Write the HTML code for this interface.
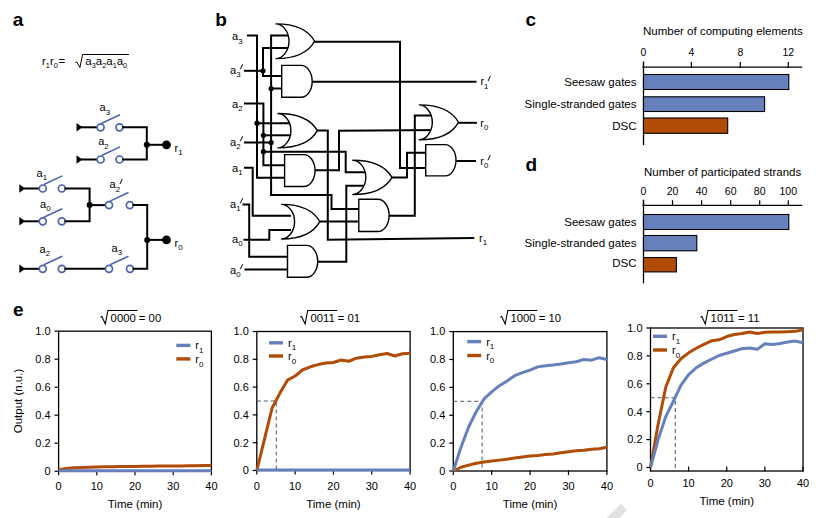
<!DOCTYPE html>
<html><head><meta charset="utf-8"><style>
html,body{margin:0;padding:0;background:#fff;width:826px;height:518px;overflow:hidden}
svg{display:block;font-family:"Liberation Sans", sans-serif}
</style></head><body>
<svg width="826" height="518" viewBox="0 0 826 518">
<text x="12.8" y="26" font-size="19" text-anchor="start" font-weight="bold" fill="#000" >a</text>
<text x="42" y="64.5" font-size="11.5" fill="#000">r<tspan font-size="7.3" dy="3.9">1</tspan><tspan dy="-3.9">r</tspan><tspan font-size="7.3" dy="3.9">0</tspan><tspan dy="-3.9" dx="0.8">=</tspan></text>
<path d="M75.4,62.6 L76.8,61.9 L79.9,67.5 L82.6,54.5 H128.9" fill="none" stroke="#000" stroke-width="1"/>
<text x="85.3" y="64.5" font-size="11.5" fill="#000">a<tspan font-size="7.3" dy="3.9">3</tspan><tspan dy="-3.9">a</tspan><tspan font-size="7.3" dy="3.9">2</tspan><tspan dy="-3.9">a</tspan><tspan font-size="7.3" dy="3.9">1</tspan><tspan dy="-3.9">a</tspan><tspan font-size="7.3" dy="3.9">0</tspan></text>
<path d="M76.5,123.0 L82.5,127.3 L76.5,131.6 Z" fill="#000"/>
<polyline points="82,127.3 96.9,127.3" fill="none" stroke="#000" stroke-width="2" stroke-linejoin="miter" stroke-linecap="square" />
<path d="M76.5,155.2 L82.5,159.5 L76.5,163.8 Z" fill="#000"/>
<polyline points="82,159.5 96.9,159.5" fill="none" stroke="#000" stroke-width="2" stroke-linejoin="miter" stroke-linecap="square" />
<circle cx="100.6" cy="127.3" r="3.5" fill="#fff" stroke="#4a64ad" stroke-width="1.7"/>
<circle cx="119.5" cy="127.3" r="3.5" fill="#fff" stroke="#4a64ad" stroke-width="1.7"/>
<line x1="101.6" y1="123.3" x2="120.1" y2="114.7" stroke="#4a64ad" stroke-width="1.5"/>
<text x="99.6" y="111.2" font-size="11" fill="#000">a<tspan font-size="7.8" dy="3.6">3</tspan></text>
<circle cx="100.6" cy="159.5" r="3.5" fill="#fff" stroke="#4a64ad" stroke-width="1.7"/>
<circle cx="119.5" cy="159.5" r="3.5" fill="#fff" stroke="#4a64ad" stroke-width="1.7"/>
<line x1="101.6" y1="155.5" x2="120.1" y2="146.9" stroke="#4a64ad" stroke-width="1.5"/>
<text x="98.2" y="145.3" font-size="11" fill="#000">a<tspan font-size="7.8" dy="3.6">2</tspan></text>
<polyline points="123.2,127.3 146.8,127.3 146.8,159.5 123.2,159.5" fill="none" stroke="#000" stroke-width="2" stroke-linejoin="miter" stroke-linecap="square" />
<polyline points="146.8,144.8 166.5,144.8" fill="none" stroke="#000" stroke-width="2" stroke-linejoin="miter" stroke-linecap="square" />
<circle cx="146.8" cy="144.8" r="3" fill="#000"/>
<circle cx="166.5" cy="144.8" r="4.4" fill="#000"/>
<text x="174.5" y="151.5" font-size="11" fill="#000">r<tspan font-size="8" dy="3.6">1</tspan></text>
<path d="M19.3,184.2 L25.3,188.5 L19.3,192.8 Z" fill="#000"/>
<polyline points="25,188.5 38.8,188.5" fill="none" stroke="#000" stroke-width="2" stroke-linejoin="miter" stroke-linecap="square" />
<path d="M19.3,217.0 L25.3,221.3 L19.3,225.60000000000002 Z" fill="#000"/>
<polyline points="25,221.3 38.8,221.3" fill="none" stroke="#000" stroke-width="2" stroke-linejoin="miter" stroke-linecap="square" />
<path d="M19.3,264.5 L25.3,268.8 L19.3,273.1 Z" fill="#000"/>
<polyline points="25,268.8 38.8,268.8" fill="none" stroke="#000" stroke-width="2" stroke-linejoin="miter" stroke-linecap="square" />
<circle cx="42.8" cy="188.5" r="3.5" fill="#fff" stroke="#4a64ad" stroke-width="1.7"/>
<circle cx="61.8" cy="188.5" r="3.5" fill="#fff" stroke="#4a64ad" stroke-width="1.7"/>
<line x1="43.8" y1="184.5" x2="62.3" y2="175.9" stroke="#4a64ad" stroke-width="1.5"/>
<text x="36.6" y="176.7" font-size="11" fill="#000">a<tspan font-size="7.8" dy="3.6">1</tspan></text>
<circle cx="42.8" cy="221.3" r="3.5" fill="#fff" stroke="#4a64ad" stroke-width="1.7"/>
<circle cx="61.8" cy="221.3" r="3.5" fill="#fff" stroke="#4a64ad" stroke-width="1.7"/>
<line x1="43.8" y1="217.3" x2="62.3" y2="208.70000000000002" stroke="#4a64ad" stroke-width="1.5"/>
<text x="40" y="207.5" font-size="11" fill="#000">a<tspan font-size="7.8" dy="3.6">0</tspan></text>
<circle cx="42.8" cy="268.8" r="3.5" fill="#fff" stroke="#4a64ad" stroke-width="1.7"/>
<circle cx="61.8" cy="268.8" r="3.5" fill="#fff" stroke="#4a64ad" stroke-width="1.7"/>
<line x1="43.8" y1="264.8" x2="62.3" y2="256.2" stroke="#4a64ad" stroke-width="1.5"/>
<text x="39.5" y="252.8" font-size="11" fill="#000">a<tspan font-size="7.8" dy="3.6">2</tspan></text>
<polyline points="65.5,188.5 89.6,188.5 89.6,221.3 65.5,221.3" fill="none" stroke="#000" stroke-width="2" stroke-linejoin="miter" stroke-linecap="square" />
<polyline points="89.6,205.1 105,205.1" fill="none" stroke="#000" stroke-width="2" stroke-linejoin="miter" stroke-linecap="square" />
<circle cx="89.6" cy="205.1" r="3" fill="#000"/>
<circle cx="109" cy="205.1" r="3.5" fill="#fff" stroke="#4a64ad" stroke-width="1.7"/>
<circle cx="129.8" cy="205.1" r="3.5" fill="#fff" stroke="#4a64ad" stroke-width="1.7"/>
<line x1="110" y1="201.1" x2="128.5" y2="192.5" stroke="#4a64ad" stroke-width="1.5"/>
<text x="109.6" y="188.3" font-size="11" fill="#000">a<tspan font-size="7.8" dy="3.6">2</tspan></text>
<line x1="119.89999999999999" y1="184.0" x2="122.3" y2="179.0" stroke="#000" stroke-width="1"/>
<polyline points="65.5,268.8 105,268.8" fill="none" stroke="#000" stroke-width="2" stroke-linejoin="miter" stroke-linecap="square" />
<circle cx="109" cy="268.8" r="3.5" fill="#fff" stroke="#4a64ad" stroke-width="1.7"/>
<circle cx="130" cy="268.8" r="3.5" fill="#fff" stroke="#4a64ad" stroke-width="1.7"/>
<line x1="110" y1="264.8" x2="128.5" y2="256.2" stroke="#4a64ad" stroke-width="1.5"/>
<text x="111.6" y="251.8" font-size="11" fill="#000">a<tspan font-size="7.8" dy="3.6">3</tspan></text>
<polyline points="133.5,205.1 147.2,205.1 147.2,268.8 133.5,268.8" fill="none" stroke="#000" stroke-width="2" stroke-linejoin="miter" stroke-linecap="square" />
<polyline points="147.2,239.9 166.5,239.9" fill="none" stroke="#000" stroke-width="2" stroke-linejoin="miter" stroke-linecap="square" />
<circle cx="147.2" cy="239.9" r="3" fill="#000"/>
<circle cx="166.5" cy="239.9" r="4.4" fill="#000"/>
<text x="174.5" y="246.5" font-size="11" fill="#000">r<tspan font-size="8" dy="3.6">0</tspan></text>
<text x="215.2" y="25.8" font-size="19" text-anchor="start" font-weight="bold" fill="#000" >b</text>
<polyline points="248,35.4 257,35.4 257,177.8 290,177.8" fill="none" stroke="#000" stroke-width="2.0" stroke-linejoin="miter" stroke-linecap="square" />
<polyline points="257,123.2 290,123.2" fill="none" stroke="#000" stroke-width="2.0" stroke-linejoin="miter" stroke-linecap="square" />
<polyline points="300,35.4 271.1,35.4 271.1,195 331.5,195 331.5,208.9 365,208.9" fill="none" stroke="#000" stroke-width="2.0" stroke-linejoin="miter" stroke-linecap="square" />
<polyline points="271.1,88.5 290,88.5" fill="none" stroke="#000" stroke-width="2.0" stroke-linejoin="miter" stroke-linecap="square" />
<polyline points="245,142.5 271.1,142.5" fill="none" stroke="#000" stroke-width="2.0" stroke-linejoin="miter" stroke-linecap="square" />
<polyline points="290,48 263,48 263,76 290,76" fill="none" stroke="#000" stroke-width="2.0" stroke-linejoin="miter" stroke-linecap="square" />
<polyline points="245,70.8 263,70.8" fill="none" stroke="#000" stroke-width="2.0" stroke-linejoin="miter" stroke-linecap="square" />
<polyline points="245,103.6 263.4,103.6 263.4,165.2 290,165.2" fill="none" stroke="#000" stroke-width="2.0" stroke-linejoin="miter" stroke-linecap="square" />
<polyline points="263.4,135.3 290,135.3" fill="none" stroke="#000" stroke-width="2.0" stroke-linejoin="miter" stroke-linecap="square" />
<polyline points="263.4,151.7 345.7,151.7 345.7,172.2 365,172.2" fill="none" stroke="#000" stroke-width="2.0" stroke-linejoin="miter" stroke-linecap="square" />
<polyline points="245,167.8 252.7,167.8 252.7,215.7 290,215.7" fill="none" stroke="#000" stroke-width="2.0" stroke-linejoin="miter" stroke-linecap="square" />
<polyline points="243.5,204.6 249.2,204.6 249.2,256.7 295,256.7" fill="none" stroke="#000" stroke-width="2.0" stroke-linejoin="miter" stroke-linecap="square" />
<polyline points="244.5,239.7 269.3,239.7 269.3,230.1 290,230.1" fill="none" stroke="#000" stroke-width="2.0" stroke-linejoin="miter" stroke-linecap="square" />
<polyline points="245.5,269.4 295,269.4" fill="none" stroke="#000" stroke-width="2.0" stroke-linejoin="miter" stroke-linecap="square" />
<polyline points="310,130.5 327.8,130.5 327.8,239.8 473.3,237.9" fill="none" stroke="#000" stroke-width="2.0" stroke-linejoin="miter" stroke-linecap="square" />
<polyline points="310,170.2 339,170.2 339,130.7 440,130" fill="none" stroke="#000" stroke-width="2.0" stroke-linejoin="miter" stroke-linecap="square" />
<polyline points="310,41.8 400,41.8 400,168.1 435,168.1" fill="none" stroke="#000" stroke-width="2.0" stroke-linejoin="miter" stroke-linecap="square" />
<polyline points="310,81.7 475.5,81.7" fill="none" stroke="#000" stroke-width="2.0" stroke-linejoin="miter" stroke-linecap="square" />
<polyline points="310,221.6 365,221.6" fill="none" stroke="#000" stroke-width="2.0" stroke-linejoin="miter" stroke-linecap="square" />
<polyline points="310,261.8 346.3,261.8 346.3,185.8 365,185.8" fill="none" stroke="#000" stroke-width="2.0" stroke-linejoin="miter" stroke-linecap="square" />
<polyline points="385,177.6 407,177.6 407,152.7 435,152.7" fill="none" stroke="#000" stroke-width="2.0" stroke-linejoin="miter" stroke-linecap="square" />
<polyline points="385,215.7 414.8,215.7 414.8,115.5 440,115.5" fill="none" stroke="#000" stroke-width="2.0" stroke-linejoin="miter" stroke-linecap="square" />
<polyline points="450,122.8 475.9,122.8" fill="none" stroke="#000" stroke-width="2.0" stroke-linejoin="miter" stroke-linecap="square" />
<polyline points="450,161 475,161" fill="none" stroke="#000" stroke-width="2.0" stroke-linejoin="miter" stroke-linecap="square" />
<path d="M276,23.9 C297.23,23.9 308.81,30.84 314.6,41.25 C308.81,51.66 297.23,58.6 276,58.6 C281.85,58.6 289,51.66 289,41.25 C289,30.84 281.85,23.9 276,23.9 Z" fill="#fff" stroke="#000" stroke-width="1.4" stroke-linejoin="round"/>
<path d="M281.7,65.4 H301.07 A11.129999999999995,15.899999999999999 0 0 1 301.07,97.2 H281.7 Z" fill="#fff" stroke="#000" stroke-width="1.4"/>
<path d="M277.9,113.5 C299.625,113.5 311.47499999999997,120.38 317.4,130.7 C311.47499999999997,141.02 299.625,147.9 277.9,147.9 C283.75,147.9 290.9,141.02 290.9,130.7 C290.9,120.38 283.75,113.5 277.9,113.5 Z" fill="#fff" stroke="#000" stroke-width="1.4" stroke-linejoin="round"/>
<path d="M284.6,154.6 H303.835 A11.16500000000002,15.950000000000003 0 0 1 303.835,186.5 H284.6 Z" fill="#fff" stroke="#000" stroke-width="1.4"/>
<path d="M281.6,204.4 C302.61,204.4 314.07,211.32 319.8,221.7 C314.07,232.08 302.61,239 281.6,239 C287.45000000000005,239 294.6,232.08 294.6,221.7 C294.6,211.32 287.45000000000005,204.4 281.6,204.4 Z" fill="#fff" stroke="#000" stroke-width="1.4" stroke-linejoin="round"/>
<path d="M287.5,245.4 H306.53499999999997 A11.16500000000002,15.950000000000003 0 0 1 306.53499999999997,277.3 H287.5 Z" fill="#fff" stroke="#000" stroke-width="1.4"/>
<path d="M352.8,160.2 C374.36,160.2 386.12,167.06 392,177.35 C386.12,187.64 374.36,194.5 352.8,194.5 C358.65000000000003,194.5 365.8,187.64 365.8,177.35 C365.8,167.06 358.65000000000003,160.2 352.8,160.2 Z" fill="#fff" stroke="#000" stroke-width="1.4" stroke-linejoin="round"/>
<path d="M358.8,199.3 H377.83000000000004 A11.269999999999982,16.099999999999994 0 0 1 377.83000000000004,231.5 H358.8 Z" fill="#fff" stroke="#000" stroke-width="1.4"/>
<path d="M419.3,104.9 C440.86,104.9 452.62,111.88000000000001 458.5,122.35000000000001 C452.62,132.82000000000002 440.86,139.8 419.3,139.8 C425.15000000000003,139.8 432.3,132.82000000000002 432.3,122.35000000000001 C432.3,111.88000000000001 425.15000000000003,104.9 419.3,104.9 Z" fill="#fff" stroke="#000" stroke-width="1.4" stroke-linejoin="round"/>
<path d="M425.7,144.6 H445.045 A10.954999999999984,15.650000000000006 0 0 1 445.045,175.9 H425.7 Z" fill="#fff" stroke="#000" stroke-width="1.4"/>
<circle cx="263" cy="70.8" r="2.6" fill="#000"/>
<circle cx="271.1" cy="88.5" r="2.6" fill="#000"/>
<circle cx="257" cy="123.2" r="2.6" fill="#000"/>
<circle cx="263.4" cy="135.3" r="2.6" fill="#000"/>
<circle cx="271.1" cy="142.5" r="2.6" fill="#000"/>
<circle cx="263.4" cy="151.7" r="2.6" fill="#000"/>
<text x="232" y="40.3" font-size="11" fill="#000">a<tspan font-size="7.8" dy="3.6">3</tspan></text>
<text x="230" y="73.5" font-size="11" fill="#000">a<tspan font-size="7.8" dy="3.6">3</tspan></text>
<line x1="240.3" y1="69.2" x2="242.70000000000002" y2="64.2" stroke="#000" stroke-width="1"/>
<text x="232" y="107.5" font-size="11" fill="#000">a<tspan font-size="7.8" dy="3.6">2</tspan></text>
<text x="230" y="145.5" font-size="11" fill="#000">a<tspan font-size="7.8" dy="3.6">2</tspan></text>
<line x1="240.3" y1="141.2" x2="242.70000000000002" y2="136.2" stroke="#000" stroke-width="1"/>
<text x="232" y="171.5" font-size="11" fill="#000">a<tspan font-size="7.8" dy="3.6">1</tspan></text>
<text x="230" y="207.5" font-size="11" fill="#000">a<tspan font-size="7.8" dy="3.6">1</tspan></text>
<line x1="240.3" y1="203.2" x2="242.70000000000002" y2="198.2" stroke="#000" stroke-width="1"/>
<text x="232" y="242.5" font-size="11" fill="#000">a<tspan font-size="7.8" dy="3.6">0</tspan></text>
<text x="230" y="273.5" font-size="11" fill="#000">a<tspan font-size="7.8" dy="3.6">0</tspan></text>
<line x1="240.3" y1="269.2" x2="242.70000000000002" y2="264.2" stroke="#000" stroke-width="1"/>
<text x="480.4" y="85.4" font-size="11" fill="#000">r<tspan font-size="7.8" dy="3.6">1</tspan></text>
<line x1="488.0" y1="81.10000000000001" x2="490.4" y2="76.10000000000001" stroke="#000" stroke-width="1"/>
<text x="480.3" y="126.5" font-size="11" fill="#000">r<tspan font-size="7.8" dy="3.6">0</tspan></text>
<text x="480.3" y="164.5" font-size="11" fill="#000">r<tspan font-size="7.8" dy="3.6">0</tspan></text>
<line x1="487.90000000000003" y1="160.2" x2="490.3" y2="155.2" stroke="#000" stroke-width="1"/>
<text x="479" y="241.5" font-size="11" fill="#000">r<tspan font-size="7.8" dy="3.6">1</tspan></text>
<text x="525.5" y="26" font-size="19" text-anchor="start" font-weight="bold" fill="#000" >c</text>
<text x="643" y="35" font-size="11.5" text-anchor="start" font-weight="normal" fill="#000" >Number of computing elements</text>
<polyline points="643.5,62.2 643.5,144.4" fill="none" stroke="#000" stroke-width="1.3" stroke-linejoin="miter" stroke-linecap="square" />
<polyline points="643,67.2 801.6,67.2" fill="none" stroke="#000" stroke-width="1.3" stroke-linejoin="miter" stroke-linecap="square" />
<polyline points="643.5,62.7 643.5,67.2" fill="none" stroke="#000" stroke-width="1.2" stroke-linejoin="miter" stroke-linecap="square" />
<text x="643.5" y="55.7" font-size="10.5" text-anchor="middle" font-weight="normal" fill="#000" >0</text>
<polyline points="691.4,62.7 691.4,67.2" fill="none" stroke="#000" stroke-width="1.2" stroke-linejoin="miter" stroke-linecap="square" />
<text x="691.4" y="55.7" font-size="10.5" text-anchor="middle" font-weight="normal" fill="#000" >4</text>
<polyline points="740.3,62.7 740.3,67.2" fill="none" stroke="#000" stroke-width="1.2" stroke-linejoin="miter" stroke-linecap="square" />
<text x="740.3" y="55.7" font-size="10.5" text-anchor="middle" font-weight="normal" fill="#000" >8</text>
<polyline points="788.3,62.7 788.3,67.2" fill="none" stroke="#000" stroke-width="1.2" stroke-linejoin="miter" stroke-linecap="square" />
<text x="788.3" y="55.7" font-size="10.5" text-anchor="middle" font-weight="normal" fill="#000" >12</text>
<rect x="643.5" y="74.5" width="145.29999999999995" height="15.0" fill="#6580bb" stroke="#000" stroke-width="1.1"/>
<text x="636.5" y="86" font-size="11.5" text-anchor="end" font-weight="normal" fill="#000" >Seesaw gates</text>
<rect x="643.5" y="96.8" width="121.10000000000002" height="14.700000000000003" fill="#6580bb" stroke="#000" stroke-width="1.1"/>
<text x="636.5" y="107.8" font-size="11.5" text-anchor="end" font-weight="normal" fill="#000" >Single-stranded gates</text>
<rect x="643.5" y="118" width="84.20000000000005" height="15.300000000000011" fill="#b04c06" stroke="#000" stroke-width="1.1"/>
<text x="636.5" y="129.5" font-size="11.5" text-anchor="end" font-weight="normal" fill="#000" >DSC</text>
<text x="525.5" y="171" font-size="19" text-anchor="start" font-weight="bold" fill="#000" >d</text>
<text x="644" y="175.7" font-size="11.5" text-anchor="start" font-weight="normal" fill="#000" >Number of participated strands</text>
<polyline points="643.5,200.3 643.5,282.7" fill="none" stroke="#000" stroke-width="1.3" stroke-linejoin="miter" stroke-linecap="square" />
<polyline points="643,205.3 801.6,205.3" fill="none" stroke="#000" stroke-width="1.3" stroke-linejoin="miter" stroke-linecap="square" />
<polyline points="643.5,200.8 643.5,205.3" fill="none" stroke="#000" stroke-width="1.2" stroke-linejoin="miter" stroke-linecap="square" />
<text x="643.5" y="195.0" font-size="10.5" text-anchor="middle" font-weight="normal" fill="#000" >0</text>
<polyline points="672.5,200.8 672.5,205.3" fill="none" stroke="#000" stroke-width="1.2" stroke-linejoin="miter" stroke-linecap="square" />
<text x="672.5" y="195.0" font-size="10.5" text-anchor="middle" font-weight="normal" fill="#000" >20</text>
<polyline points="701.6,200.8 701.6,205.3" fill="none" stroke="#000" stroke-width="1.2" stroke-linejoin="miter" stroke-linecap="square" />
<text x="701.6" y="195.0" font-size="10.5" text-anchor="middle" font-weight="normal" fill="#000" >40</text>
<polyline points="730.7,200.8 730.7,205.3" fill="none" stroke="#000" stroke-width="1.2" stroke-linejoin="miter" stroke-linecap="square" />
<text x="730.7" y="195.0" font-size="10.5" text-anchor="middle" font-weight="normal" fill="#000" >60</text>
<polyline points="759.7,200.8 759.7,205.3" fill="none" stroke="#000" stroke-width="1.2" stroke-linejoin="miter" stroke-linecap="square" />
<text x="759.7" y="195.0" font-size="10.5" text-anchor="middle" font-weight="normal" fill="#000" >80</text>
<polyline points="788.3,200.8 788.3,205.3" fill="none" stroke="#000" stroke-width="1.2" stroke-linejoin="miter" stroke-linecap="square" />
<text x="788.3" y="195.0" font-size="10.5" text-anchor="middle" font-weight="normal" fill="#000" >100</text>
<rect x="643.5" y="214.5" width="145.29999999999995" height="15.0" fill="#6580bb" stroke="#000" stroke-width="1.1"/>
<text x="636.5" y="225.6" font-size="11.5" text-anchor="end" font-weight="normal" fill="#000" >Seesaw gates</text>
<rect x="643.5" y="235.5" width="53.299999999999955" height="15.300000000000011" fill="#6580bb" stroke="#000" stroke-width="1.1"/>
<text x="636.5" y="246.6" font-size="11.5" text-anchor="end" font-weight="normal" fill="#000" >Single-stranded gates</text>
<rect x="643.5" y="257.6" width="32.89999999999998" height="14.299999999999955" fill="#b04c06" stroke="#000" stroke-width="1.1"/>
<text x="636.5" y="267.2" font-size="11.5" text-anchor="end" font-weight="normal" fill="#000" >DSC</text>
<text x="13" y="316" font-size="19" text-anchor="start" font-weight="bold" fill="#000" >e</text>
<rect x="58.6" y="331.2" width="152.8" height="140.0" fill="none" stroke="#000" stroke-width="1.3"/>
<polyline points="55.1,471.2 58.6,471.2" fill="none" stroke="#000" stroke-width="1.2" stroke-linejoin="miter" stroke-linecap="square" />
<text x="50.6" y="475.0" font-size="11" text-anchor="end" font-weight="normal" fill="#000" >0</text>
<polyline points="55.1,443.2 58.6,443.2" fill="none" stroke="#000" stroke-width="1.2" stroke-linejoin="miter" stroke-linecap="square" />
<text x="50.6" y="447.0" font-size="11" text-anchor="end" font-weight="normal" fill="#000" >0.2</text>
<polyline points="55.1,415.2 58.6,415.2" fill="none" stroke="#000" stroke-width="1.2" stroke-linejoin="miter" stroke-linecap="square" />
<text x="50.6" y="419.0" font-size="11" text-anchor="end" font-weight="normal" fill="#000" >0.4</text>
<polyline points="55.1,387.2 58.6,387.2" fill="none" stroke="#000" stroke-width="1.2" stroke-linejoin="miter" stroke-linecap="square" />
<text x="50.6" y="391.0" font-size="11" text-anchor="end" font-weight="normal" fill="#000" >0.6</text>
<polyline points="55.1,359.2 58.6,359.2" fill="none" stroke="#000" stroke-width="1.2" stroke-linejoin="miter" stroke-linecap="square" />
<text x="50.6" y="363.0" font-size="11" text-anchor="end" font-weight="normal" fill="#000" >0.8</text>
<polyline points="55.1,331.2 58.6,331.2" fill="none" stroke="#000" stroke-width="1.2" stroke-linejoin="miter" stroke-linecap="square" />
<text x="50.6" y="335.0" font-size="11" text-anchor="end" font-weight="normal" fill="#000" >1.0</text>
<polyline points="58.6,471.2 58.6,474.7" fill="none" stroke="#000" stroke-width="1.2" stroke-linejoin="miter" stroke-linecap="square" />
<text x="58.6" y="490.2" font-size="11" text-anchor="middle" font-weight="normal" fill="#000" >0</text>
<polyline points="96.80000000000001,471.2 96.80000000000001,474.7" fill="none" stroke="#000" stroke-width="1.2" stroke-linejoin="miter" stroke-linecap="square" />
<text x="96.80000000000001" y="490.2" font-size="11" text-anchor="middle" font-weight="normal" fill="#000" >10</text>
<polyline points="135.0,471.2 135.0,474.7" fill="none" stroke="#000" stroke-width="1.2" stroke-linejoin="miter" stroke-linecap="square" />
<text x="135.0" y="490.2" font-size="11" text-anchor="middle" font-weight="normal" fill="#000" >20</text>
<polyline points="173.20000000000002,471.2 173.20000000000002,474.7" fill="none" stroke="#000" stroke-width="1.2" stroke-linejoin="miter" stroke-linecap="square" />
<text x="173.20000000000002" y="490.2" font-size="11" text-anchor="middle" font-weight="normal" fill="#000" >30</text>
<polyline points="211.4,471.2 211.4,474.7" fill="none" stroke="#000" stroke-width="1.2" stroke-linejoin="miter" stroke-linecap="square" />
<text x="211.4" y="490.2" font-size="11" text-anchor="middle" font-weight="normal" fill="#000" >40</text>
<text x="135.0" y="508.2" font-size="11.5" text-anchor="middle" font-weight="normal" fill="#000" >Time (min)</text>
<polyline points="58.60,469.80 66.24,468.40 73.88,467.84 81.52,467.56 89.16,467.28 96.80,467.00 104.44,466.86 112.08,466.72 119.72,466.58 127.36,466.44 135.00,466.44 142.64,466.30 150.28,466.16 157.92,466.02 165.56,466.02 173.20,465.88 180.84,465.88 188.48,465.74 196.12,465.74 203.76,465.60 211.40,465.60" fill="none" stroke="#b04c06" stroke-width="3" stroke-linejoin="round"/>
<polyline points="58.60,470.78 66.24,470.78 73.88,470.78 81.52,470.78 89.16,470.78 96.80,470.78 104.44,470.78 112.08,470.78 119.72,470.78 127.36,470.78 135.00,470.78 142.64,470.78 150.28,470.78 157.92,470.78 165.56,470.78 173.20,470.78 180.84,470.78 188.48,470.78 196.12,470.78 203.76,470.78 211.40,470.78" fill="none" stroke="#6580bb" stroke-width="3" stroke-linejoin="round"/>
<line x1="176.3" y1="345.4" x2="190.3" y2="345.4" stroke="#6580bb" stroke-width="3.4"/>
<line x1="176.3" y1="358.9" x2="190.3" y2="358.9" stroke="#b04c06" stroke-width="3.4"/>
<text x="195.3" y="349.4" font-size="11" fill="#000">r<tspan font-size="8" dy="3.6">1</tspan></text>
<text x="195.3" y="362.9" font-size="11" fill="#000">r<tspan font-size="8" dy="3.6">0</tspan></text>
<path d="M100.5,317.3 l1.3,-0.7 l3.5,7.4 L107.89999999999999,310.5 H137.5" fill="none" stroke="#000" stroke-width="1.1"/>
<text x="110.6" y="321.8" font-size="11.3" fill="#000">0000 = 00</text>
<text transform="translate(22,401) rotate(-90)" font-size="11.5" text-anchor="middle" fill="#000">Output (n.u.)</text>
<rect x="256.8" y="331.5" width="153.3" height="139.0" fill="none" stroke="#000" stroke-width="1.3"/>
<polyline points="253.3,470.5 256.8,470.5" fill="none" stroke="#000" stroke-width="1.2" stroke-linejoin="miter" stroke-linecap="square" />
<text x="248.8" y="474.3" font-size="11" text-anchor="end" font-weight="normal" fill="#000" >0</text>
<polyline points="253.3,442.7 256.8,442.7" fill="none" stroke="#000" stroke-width="1.2" stroke-linejoin="miter" stroke-linecap="square" />
<text x="248.8" y="446.5" font-size="11" text-anchor="end" font-weight="normal" fill="#000" >0.2</text>
<polyline points="253.3,414.9 256.8,414.9" fill="none" stroke="#000" stroke-width="1.2" stroke-linejoin="miter" stroke-linecap="square" />
<text x="248.8" y="418.7" font-size="11" text-anchor="end" font-weight="normal" fill="#000" >0.4</text>
<polyline points="253.3,387.1 256.8,387.1" fill="none" stroke="#000" stroke-width="1.2" stroke-linejoin="miter" stroke-linecap="square" />
<text x="248.8" y="390.90000000000003" font-size="11" text-anchor="end" font-weight="normal" fill="#000" >0.6</text>
<polyline points="253.3,359.3 256.8,359.3" fill="none" stroke="#000" stroke-width="1.2" stroke-linejoin="miter" stroke-linecap="square" />
<text x="248.8" y="363.1" font-size="11" text-anchor="end" font-weight="normal" fill="#000" >0.8</text>
<polyline points="253.3,331.5 256.8,331.5" fill="none" stroke="#000" stroke-width="1.2" stroke-linejoin="miter" stroke-linecap="square" />
<text x="248.8" y="335.3" font-size="11" text-anchor="end" font-weight="normal" fill="#000" >1.0</text>
<polyline points="256.8,470.5 256.8,474.0" fill="none" stroke="#000" stroke-width="1.2" stroke-linejoin="miter" stroke-linecap="square" />
<text x="256.8" y="489.5" font-size="11" text-anchor="middle" font-weight="normal" fill="#000" >0</text>
<polyline points="295.125,470.5 295.125,474.0" fill="none" stroke="#000" stroke-width="1.2" stroke-linejoin="miter" stroke-linecap="square" />
<text x="295.125" y="489.5" font-size="11" text-anchor="middle" font-weight="normal" fill="#000" >10</text>
<polyline points="333.45000000000005,470.5 333.45000000000005,474.0" fill="none" stroke="#000" stroke-width="1.2" stroke-linejoin="miter" stroke-linecap="square" />
<text x="333.45000000000005" y="489.5" font-size="11" text-anchor="middle" font-weight="normal" fill="#000" >20</text>
<polyline points="371.77500000000003,470.5 371.77500000000003,474.0" fill="none" stroke="#000" stroke-width="1.2" stroke-linejoin="miter" stroke-linecap="square" />
<text x="371.77500000000003" y="489.5" font-size="11" text-anchor="middle" font-weight="normal" fill="#000" >30</text>
<polyline points="410.1,470.5 410.1,474.0" fill="none" stroke="#000" stroke-width="1.2" stroke-linejoin="miter" stroke-linecap="square" />
<text x="410.1" y="489.5" font-size="11" text-anchor="middle" font-weight="normal" fill="#000" >40</text>
<text x="333.45000000000005" y="507.5" font-size="11.5" text-anchor="middle" font-weight="normal" fill="#000" >Time (min)</text>
<polyline points="256.8,401.0 276.26910000000004,401.0 276.26910000000004,470.5" fill="none" stroke="#555" stroke-width="1" stroke-dasharray="4,3"/>
<polyline points="256.80,470.50 264.47,439.23 272.13,407.95 279.80,393.36 287.46,380.15 295.12,375.98 302.79,369.73 310.46,366.81 318.12,364.58 325.79,363.05 333.45,362.50 341.12,360.00 348.78,361.25 356.45,358.19 364.11,356.94 371.78,356.38 379.44,354.71 387.11,353.46 394.77,355.96 402.44,353.74 410.10,353.18" fill="none" stroke="#b04c06" stroke-width="3" stroke-linejoin="round"/>
<polyline points="256.80,470.08 264.47,470.08 272.13,470.08 279.80,470.08 287.46,470.08 295.12,470.08 302.79,470.08 310.46,470.08 318.12,470.08 325.79,470.08 333.45,470.08 341.12,470.08 348.78,470.08 356.45,470.08 364.11,470.08 371.78,470.08 379.44,470.08 387.11,470.08 394.77,470.08 402.44,470.08 410.10,470.08" fill="none" stroke="#6580bb" stroke-width="3" stroke-linejoin="round"/>
<line x1="269" y1="342.8" x2="283" y2="342.8" stroke="#6580bb" stroke-width="3.4"/>
<line x1="269" y1="356" x2="283" y2="356" stroke="#b04c06" stroke-width="3.4"/>
<text x="288" y="346.8" font-size="11" fill="#000">r<tspan font-size="8" dy="3.6">1</tspan></text>
<text x="288" y="360" font-size="11" fill="#000">r<tspan font-size="8" dy="3.6">0</tspan></text>
<path d="M300.3,317.3 l1.3,-0.7 l3.5,7.4 L307.70000000000005,310.5 H337.3" fill="none" stroke="#000" stroke-width="1.1"/>
<text x="310.40000000000003" y="321.8" font-size="11.3" fill="#000">0011 = 01</text>
<rect x="453.3" y="331.6" width="153.59999999999997" height="139.39999999999998" fill="none" stroke="#000" stroke-width="1.3"/>
<polyline points="449.8,471.0 453.3,471.0" fill="none" stroke="#000" stroke-width="1.2" stroke-linejoin="miter" stroke-linecap="square" />
<text x="445.3" y="474.8" font-size="11" text-anchor="end" font-weight="normal" fill="#000" >0</text>
<polyline points="449.8,443.12 453.3,443.12" fill="none" stroke="#000" stroke-width="1.2" stroke-linejoin="miter" stroke-linecap="square" />
<text x="445.3" y="446.92" font-size="11" text-anchor="end" font-weight="normal" fill="#000" >0.2</text>
<polyline points="449.8,415.24 453.3,415.24" fill="none" stroke="#000" stroke-width="1.2" stroke-linejoin="miter" stroke-linecap="square" />
<text x="445.3" y="419.04" font-size="11" text-anchor="end" font-weight="normal" fill="#000" >0.4</text>
<polyline points="449.8,387.36 453.3,387.36" fill="none" stroke="#000" stroke-width="1.2" stroke-linejoin="miter" stroke-linecap="square" />
<text x="445.3" y="391.16" font-size="11" text-anchor="end" font-weight="normal" fill="#000" >0.6</text>
<polyline points="449.8,359.48 453.3,359.48" fill="none" stroke="#000" stroke-width="1.2" stroke-linejoin="miter" stroke-linecap="square" />
<text x="445.3" y="363.28000000000003" font-size="11" text-anchor="end" font-weight="normal" fill="#000" >0.8</text>
<polyline points="449.8,331.6 453.3,331.6" fill="none" stroke="#000" stroke-width="1.2" stroke-linejoin="miter" stroke-linecap="square" />
<text x="445.3" y="335.40000000000003" font-size="11" text-anchor="end" font-weight="normal" fill="#000" >1.0</text>
<polyline points="453.3,471 453.3,474.5" fill="none" stroke="#000" stroke-width="1.2" stroke-linejoin="miter" stroke-linecap="square" />
<text x="453.3" y="490" font-size="11" text-anchor="middle" font-weight="normal" fill="#000" >0</text>
<polyline points="491.7,471 491.7,474.5" fill="none" stroke="#000" stroke-width="1.2" stroke-linejoin="miter" stroke-linecap="square" />
<text x="491.7" y="490" font-size="11" text-anchor="middle" font-weight="normal" fill="#000" >10</text>
<polyline points="530.1,471 530.1,474.5" fill="none" stroke="#000" stroke-width="1.2" stroke-linejoin="miter" stroke-linecap="square" />
<text x="530.1" y="490" font-size="11" text-anchor="middle" font-weight="normal" fill="#000" >20</text>
<polyline points="568.5,471 568.5,474.5" fill="none" stroke="#000" stroke-width="1.2" stroke-linejoin="miter" stroke-linecap="square" />
<text x="568.5" y="490" font-size="11" text-anchor="middle" font-weight="normal" fill="#000" >30</text>
<polyline points="606.9,471 606.9,474.5" fill="none" stroke="#000" stroke-width="1.2" stroke-linejoin="miter" stroke-linecap="square" />
<text x="606.9" y="490" font-size="11" text-anchor="middle" font-weight="normal" fill="#000" >40</text>
<text x="530.1" y="508" font-size="11.5" text-anchor="middle" font-weight="normal" fill="#000" >Time (min)</text>
<polyline points="453.3,401.3 482.1,401.3 482.1,471" fill="none" stroke="#555" stroke-width="1" stroke-dasharray="4,3"/>
<polyline points="453.30,471.00 460.98,467.24 468.66,465.15 476.34,463.19 484.02,461.94 491.70,461.10 499.38,460.13 507.06,459.15 514.74,457.90 522.42,457.06 530.10,456.08 537.78,455.53 545.46,454.55 553.14,453.99 560.82,452.74 568.50,451.76 576.18,450.79 583.86,450.23 591.54,449.25 599.22,448.70 606.90,447.16" fill="none" stroke="#b04c06" stroke-width="3" stroke-linejoin="round"/>
<polyline points="453.30,471.00 460.98,447.16 468.66,426.95 476.34,411.48 484.02,398.93 491.70,391.82 499.38,385.69 507.06,380.95 514.74,375.65 522.42,372.58 530.10,370.07 537.78,366.87 545.46,365.75 553.14,365.06 560.82,363.94 568.50,362.69 576.18,361.71 583.86,359.48 591.54,360.18 599.22,357.67 606.90,359.48" fill="none" stroke="#6580bb" stroke-width="3" stroke-linejoin="round"/>
<line x1="467.2" y1="341.6" x2="481.2" y2="341.6" stroke="#6580bb" stroke-width="3.4"/>
<line x1="467.2" y1="355.5" x2="481.2" y2="355.5" stroke="#b04c06" stroke-width="3.4"/>
<text x="486.2" y="345.6" font-size="11" fill="#000">r<tspan font-size="8" dy="3.6">1</tspan></text>
<text x="486.2" y="359.5" font-size="11" fill="#000">r<tspan font-size="8" dy="3.6">0</tspan></text>
<path d="M500.4,317.3 l1.3,-0.7 l3.5,7.4 L507.8,310.5 H537.4" fill="none" stroke="#000" stroke-width="1.1"/>
<text x="510.5" y="321.8" font-size="11.3" fill="#000">1000 = 10</text>
<rect x="650.5" y="328" width="152.5" height="143" fill="none" stroke="#000" stroke-width="1.3"/>
<polyline points="647.0,467.5 650.5,467.5" fill="none" stroke="#000" stroke-width="1.2" stroke-linejoin="miter" stroke-linecap="square" />
<text x="642.5" y="471.3" font-size="11" text-anchor="end" font-weight="normal" fill="#000" >0</text>
<polyline points="647.0,439.6 650.5,439.6" fill="none" stroke="#000" stroke-width="1.2" stroke-linejoin="miter" stroke-linecap="square" />
<text x="642.5" y="443.40000000000003" font-size="11" text-anchor="end" font-weight="normal" fill="#000" >0.2</text>
<polyline points="647.0,411.7 650.5,411.7" fill="none" stroke="#000" stroke-width="1.2" stroke-linejoin="miter" stroke-linecap="square" />
<text x="642.5" y="415.5" font-size="11" text-anchor="end" font-weight="normal" fill="#000" >0.4</text>
<polyline points="647.0,383.79999999999995 650.5,383.79999999999995" fill="none" stroke="#000" stroke-width="1.2" stroke-linejoin="miter" stroke-linecap="square" />
<text x="642.5" y="387.59999999999997" font-size="11" text-anchor="end" font-weight="normal" fill="#000" >0.6</text>
<polyline points="647.0,355.9 650.5,355.9" fill="none" stroke="#000" stroke-width="1.2" stroke-linejoin="miter" stroke-linecap="square" />
<text x="642.5" y="359.7" font-size="11" text-anchor="end" font-weight="normal" fill="#000" >0.8</text>
<polyline points="647.0,328.0 650.5,328.0" fill="none" stroke="#000" stroke-width="1.2" stroke-linejoin="miter" stroke-linecap="square" />
<text x="642.5" y="331.8" font-size="11" text-anchor="end" font-weight="normal" fill="#000" >1.0</text>
<polyline points="650.5,467 650.5,471" fill="none" stroke="#000" stroke-width="1.2" stroke-linejoin="miter" stroke-linecap="square" />
<text x="650.5" y="486.5" font-size="11" text-anchor="middle" font-weight="normal" fill="#000" >0</text>
<polyline points="688.625,467 688.625,471" fill="none" stroke="#000" stroke-width="1.2" stroke-linejoin="miter" stroke-linecap="square" />
<text x="688.625" y="486.5" font-size="11" text-anchor="middle" font-weight="normal" fill="#000" >10</text>
<polyline points="726.75,467 726.75,471" fill="none" stroke="#000" stroke-width="1.2" stroke-linejoin="miter" stroke-linecap="square" />
<text x="726.75" y="486.5" font-size="11" text-anchor="middle" font-weight="normal" fill="#000" >20</text>
<polyline points="764.875,467 764.875,471" fill="none" stroke="#000" stroke-width="1.2" stroke-linejoin="miter" stroke-linecap="square" />
<text x="764.875" y="486.5" font-size="11" text-anchor="middle" font-weight="normal" fill="#000" >30</text>
<polyline points="803.0,467 803.0,471" fill="none" stroke="#000" stroke-width="1.2" stroke-linejoin="miter" stroke-linecap="square" />
<text x="803.0" y="486.5" font-size="11" text-anchor="middle" font-weight="normal" fill="#000" >40</text>
<text x="726.75" y="504.5" font-size="11.5" text-anchor="middle" font-weight="normal" fill="#000" >Time (min)</text>
<polyline points="650.5,397.75 675.28125,397.75 675.28125,471" fill="none" stroke="#555" stroke-width="1" stroke-dasharray="4,3"/>
<polyline points="650.50,467.50 658.12,424.25 665.75,387.29 673.38,367.76 681.00,358.69 688.62,352.83 696.25,348.23 703.88,344.46 711.50,340.83 719.12,339.86 726.75,336.51 734.38,334.56 742.00,333.58 749.62,331.91 757.25,333.58 764.88,332.32 772.50,331.91 780.12,331.91 787.75,331.63 795.38,331.35 803.00,329.67" fill="none" stroke="#b04c06" stroke-width="3" stroke-linejoin="round"/>
<polyline points="650.50,467.50 658.12,439.60 665.75,416.58 673.38,401.24 681.00,385.19 688.62,374.73 696.25,367.76 703.88,363.15 711.50,359.25 719.12,355.48 726.75,353.25 734.38,351.02 742.00,348.65 749.62,348.09 757.25,349.34 764.88,343.76 772.50,344.46 780.12,343.48 787.75,341.95 795.38,341.11 803.00,342.79" fill="none" stroke="#6580bb" stroke-width="3" stroke-linejoin="round"/>
<line x1="653" y1="336.3" x2="667" y2="336.3" stroke="#6580bb" stroke-width="3.4"/>
<line x1="653" y1="350" x2="667" y2="350" stroke="#b04c06" stroke-width="3.4"/>
<text x="672" y="340.3" font-size="11" fill="#000">r<tspan font-size="8" dy="3.6">1</tspan></text>
<text x="672" y="354" font-size="11" fill="#000">r<tspan font-size="8" dy="3.6">0</tspan></text>
<path d="M700.5,317.3 l1.3,-0.7 l3.5,7.4 L707.9,310.5 H737.5" fill="none" stroke="#000" stroke-width="1.1"/>
<text x="710.6" y="321.8" font-size="11.3" fill="#000">1011 = 11</text>
<line x1="624" y1="507" x2="600" y2="531" stroke="#e2e2e2" stroke-width="9"/>
</svg>
</body></html>
